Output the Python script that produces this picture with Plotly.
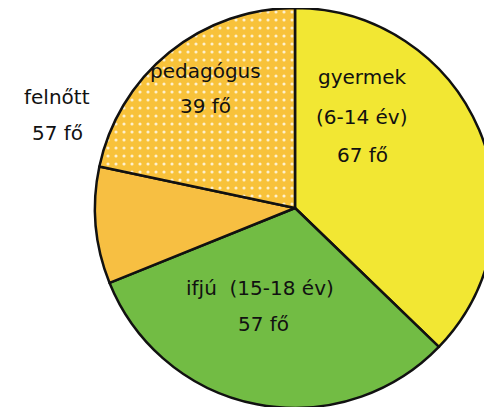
import plotly.graph_objects as go

# Data
categories = ["gyermek", "ifjú", "felnőtt", "pedagógus"]
slice_values = [67, 57, 17, 39]          # slice sizes as drawn
printed_counts = [67, 57, 57, 39]        # numbers printed on the chart
age_ranges = ["(6-14 év)", "(15-18 év)", "", ""]
colors = ["#F2E733", "#72BC44", "#F7BF42", "#F8C23A"]
patterns = ["", "", "", "."]

W, H = 492, 407
OFF = 8  # page body margin offset
cx, cy, r = 295 - OFF, 208 - OFF, 200

fig = go.Figure()
fig.add_trace(go.Pie(
    labels=categories,
    values=slice_values,
    sort=False,
    direction="clockwise",
    rotation=0,
    textinfo="none",
    hoverinfo="label+value",
    showlegend=False,
    marker=dict(
        colors=colors,
        line=dict(color="#111111", width=2.5),
        pattern=dict(shape=patterns, fgcolor="#FFFFFF", bgcolor=colors,
                     fgopacity=0.75, size=8, solidity=0.12, fillmode="replace"),
    ),
    domain=dict(x=[(cx - r) / W, min(1, (cx + r) / W)],
                y=[max(0, (H - cy - r) / H), min(1, (H - cy + r) / H)]),
))

# label lines and their on-screen positions (center x, center y)
label_layout = {
    "gyermek": [(362, 77), (362, 117), (362, 155)],
    "ifjú": [(260, 288), (263, 324)],
    "felnőtt": [(57, 97), (57, 133)],
    "pedagógus": [(205, 71), (205, 106)],
}

for cat, rng, cnt in zip(categories, age_ranges, printed_counts):
    if cat == "ifjú":
        lines = [f"{cat}  {rng}", f"{cnt} fő"]
    elif rng:
        lines = [cat, rng, f"{cnt} fő"]
    else:
        lines = [cat, f"{cnt} fő"]
    for text, (px, py) in zip(lines, label_layout[cat]):
        fig.add_annotation(
            x=(px - OFF) / W, y=1 - (py - OFF) / H, xref="paper", yref="paper",
            text=text, showarrow=False, xanchor="center", yanchor="middle",
            font=dict(family="DejaVu Sans", size=20, color="#111111"),
        )

fig.update_layout(
    width=W, height=H,
    margin=dict(l=0, r=0, t=0, b=0),
    paper_bgcolor="white",
    plot_bgcolor="white",
)

fig.write_html("out.html")
